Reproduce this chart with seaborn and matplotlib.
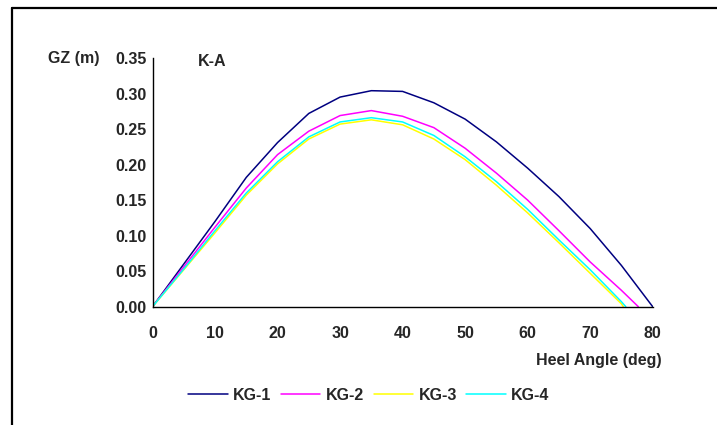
import pandas as pd
import matplotlib.pyplot as plt
import seaborn as sns
from matplotlib.lines import Line2D


# heel angle (deg) and GZ (m)
angle_kg1 = [0, 5, 10, 15, 20, 25, 30, 35, 40, 45, 50, 55, 60, 65, 70, 75, 80]
gz_kg1 = [0.0, 0.060, 0.120, 0.182, 0.231, 0.272, 0.295, 0.304, 0.303, 0.287,
          0.264, 0.232, 0.195, 0.155, 0.110, 0.058, 0.0]

angle_kg2 = [0, 5, 10, 15, 20, 25, 30, 35, 40, 45, 50, 55, 60, 65, 70, 75, 77.7]
gz_kg2 = [0.0, 0.056, 0.112, 0.167, 0.214, 0.247, 0.269, 0.276, 0.268, 0.252,
          0.223, 0.188, 0.150, 0.107, 0.063, 0.023, 0.0]

angle_kg3 = [0, 5, 10, 15, 20, 25, 30, 35, 40, 45, 50, 55, 60, 65, 70, 75, 75.3]
gz_kg3 = [0.0, 0.052, 0.104, 0.157, 0.201, 0.236, 0.257, 0.263, 0.256, 0.236,
          0.207, 0.171, 0.132, 0.090, 0.047, 0.004, 0.0]

angle_kg4 = [0, 5, 10, 15, 20, 25, 30, 35, 40, 45, 50, 55, 60, 65, 70, 75, 75.7]
gz_kg4 = [0.0, 0.053, 0.107, 0.160, 0.204, 0.239, 0.260, 0.266, 0.260, 0.241,
          0.211, 0.176, 0.137, 0.094, 0.052, 0.007, 0.0]

series_names = ["KG-1", "KG-2", "KG-3", "KG-4"]
colors = ["#000080", "#FF00FF", "#FFFF00", "#00FFFF"]

x_ticks = [0, 10, 20, 30, 40, 50, 60, 70, 80]
y_ticks = [0.00, 0.05, 0.10, 0.15, 0.20, 0.25, 0.30, 0.35]

frames = []
for name, ang, gz in zip(series_names,
                         [angle_kg1, angle_kg2, angle_kg3, angle_kg4],
                         [gz_kg1, gz_kg2, gz_kg3, gz_kg4]):
    frames.append(pd.DataFrame({"angle": ang, "gz": gz, "series": name}))
df = pd.concat(frames, ignore_index=True)

sns.set_style("white")
plt.rcParams["font.family"] = ["Liberation Sans", "DejaVu Sans"]
plt.rcParams["font.weight"] = "bold"

fig = plt.figure(figsize=(7.17, 4.25), dpi=100)
ax = fig.add_axes([0.2127, 0.2784, 0.6976, 0.5851])

sns.lineplot(
    data=df,
    x="angle",
    y="gz",
    hue="series",
    palette=colors,
    estimator=None,
    sort=False,
    linewidth=1.1,
    ax=ax
)

ax.set_xlim(0, 80)
ax.set_ylim(0, 0.35)
ax.set_xticks(x_ticks)
ax.set_yticks(y_ticks)
ax.set_yticklabels([f"{v:.2f}" for v in y_ticks])
ax.set_xlabel("")
ax.set_ylabel("")

for side in ["top", "right"]:
    ax.spines[side].set_visible(False)
for side in ["left", "bottom"]:
    ax.spines[side].set_color("black")
    ax.spines[side].set_linewidth(1.0)

ax.tick_params(axis="both", direction="out", length=3.3, width=0.9,
               color="black", labelsize=11.5)
ax.tick_params(axis="x", pad=10.5)
ax.tick_params(axis="y", pad=1.0)
for lab in ax.get_xticklabels() + ax.get_yticklabels():
    lab.set_fontweight("bold")

ax.text(0.09, 0.985, "K-A", transform=ax.transAxes, fontsize=11.5,
        fontweight="bold", ha="left", va="center")
fig.text(100 / 717, 1 - 59 / 425, "GZ (m)", fontsize=11.5,
         fontweight="bold", ha="right", va="center")
fig.text(661.7 / 717, 1 - 360 / 425, "Heel Angle (deg)", fontsize=11.5,
         fontweight="bold", ha="right", va="center")

ax.legend(
    loc="center",
    bbox_to_anchor=(369 / 717, 1 - 395 / 425),
    bbox_transform=fig.transFigure,
    ncol=4,
    frameon=False,
    fontsize=11.5,
    handlelength=2.45,
    handletextpad=0.35,
    columnspacing=0.6,
    prop={"weight": "bold", "size": 11.5}
)

# chart frame (left and top edges)
fig.add_artist(Line2D([12 / 717, 12 / 717], [0, 1 - 8 / 425],
                      transform=fig.transFigure, color="black", linewidth=1.6))
fig.add_artist(Line2D([12 / 717, 1], [1 - 8 / 425, 1 - 8 / 425],
                      transform=fig.transFigure, color="black", linewidth=1.6))

fig.savefig("out.png", dpi=100)
